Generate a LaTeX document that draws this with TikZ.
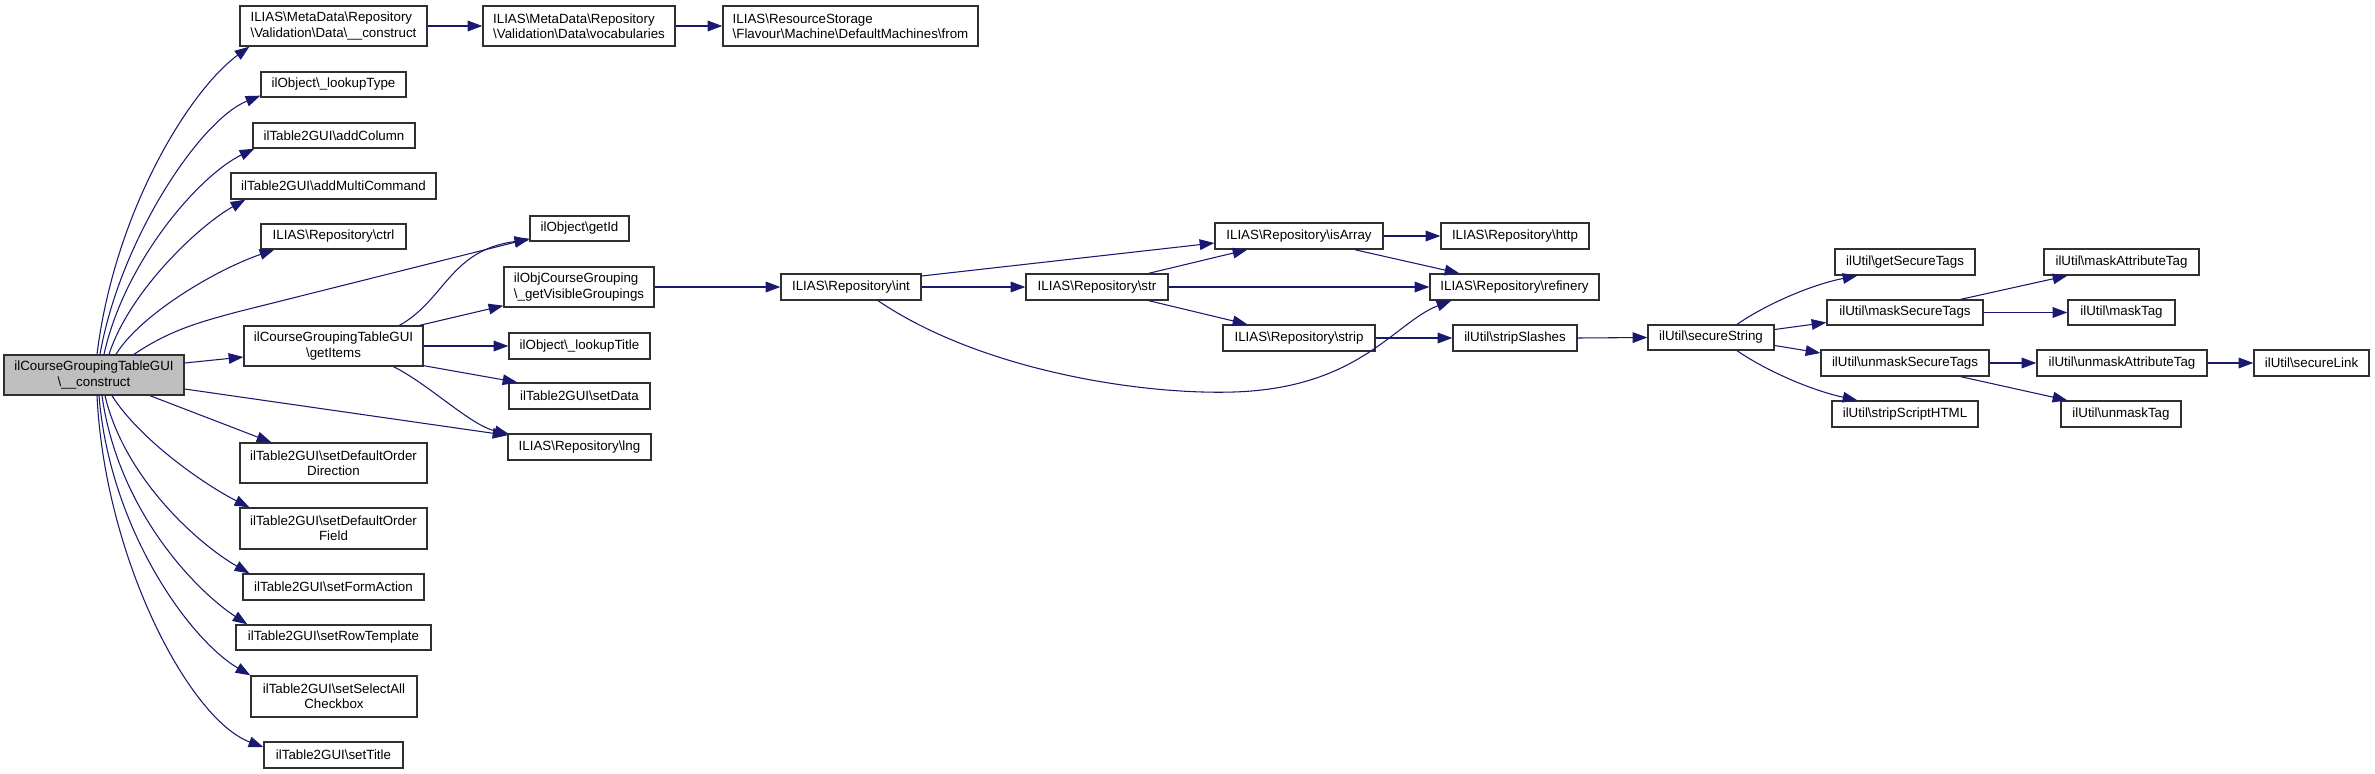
\documentclass[tikz,border=0pt]{standalone}
\usepackage{fontspec}
\setmainfont{Liberation Sans}
\usetikzlibrary{arrows.meta,calc}
\definecolor{edgec}{HTML}{191970}
\definecolor{mainfill}{HTML}{BFBFBF}
\definecolor{bordc}{HTML}{303030}
\newcommand\bsl{\textbackslash}
\newcommand\gn[7][align=center]{\node[box,#1,minimum width={(#5-#3)*0.75pt},minimum height={(#6-#4)*0.75pt}] (#2) at ({(#3+#5)/2},{(#4+#6)/2}) {#7};}
\begin{document}
\begin{tikzpicture}[x=0.75pt,y=-0.75pt,
  box/.style={draw=bordc,line width=1pt,fill=white,inner sep=1pt,font=\fontsize{10}{11.5}\selectfont},
  conn/.style={draw=edgec,line width=0.8pt,-{Triangle[length=11pt,width=8pt]}}]
\fill[white] (0,0) rectangle (2375,774);
\useasboundingbox (0,0) rectangle (2375,774);

\gn[align=center,fill=mainfill]{main}{4}{355}{184}{395}{ilCourseGroupingTableGUI\\\bsl\_\_construct}
\gn[align=left]{mdc}{240}{6}{427}{46}{ILIAS\bsl MetaData\bsl Repository\\\bsl Validation\bsl Data\bsl\_\_construct}
\gn[align=left]{voc}{483}{6}{675}{46}{ILIAS\bsl MetaData\bsl Repository\\\bsl Validation\bsl Data\bsl vocabularies}
\gn[align=left]{nfrom}{723}{6}{978}{46}{ILIAS\bsl ResourceStorage\\\bsl Flavour\bsl Machine\bsl DefaultMachines\bsl from}
\gn{lt}{261}{72}{406}{97}{ilObject\bsl\_lookupType}
\gn{ac}{253}{123}{415}{148}{ilTable2GUI\bsl addColumn}
\gn{amc}{231}{173}{436}{199}{ilTable2GUI\bsl addMultiCommand}
\gn{ctrl}{261}{224}{406}{249}{ILIAS\bsl Repository\bsl ctrl}
\gn{gi}{530}{216}{629}{241}{ilObject\bsl getId}
\gn[align=left]{gvg}{504}{267}{654}{307}{ilObjCourseGrouping\\\bsl\_getVisibleGroupings}
\gn{gitems}{244}{326}{423}{366}{ilCourseGroupingTableGUI\\\bsl getItems}
\gn{ltitle}{509}{333}{650}{359}{ilObject\bsl\_lookupTitle}
\gn{sd}{509}{383}{650}{409}{ilTable2GUI\bsl setData}
\gn{lng}{508}{434}{651}{460}{ILIAS\bsl Repository\bsl lng}
\gn{sdod}{240}{443}{427}{483}{ilTable2GUI\bsl setDefaultOrder\\Direction}
\gn{sdof}{240}{508}{427}{549}{ilTable2GUI\bsl setDefaultOrder\\Field}
\gn{sfa}{243}{574}{424}{600}{ilTable2GUI\bsl setFormAction}
\gn{srt}{236}{625}{431}{650}{ilTable2GUI\bsl setRowTemplate}
\gn{ssac}{251}{676}{417}{717}{ilTable2GUI\bsl setSelectAll\\Checkbox}
\gn{st}{264}{742}{403}{768}{ilTable2GUI\bsl setTitle}
\gn{rint}{781}{274}{921}{300}{ILIAS\bsl Repository\bsl int}
\gn{rstr}{1026}{274}{1168}{300}{ILIAS\bsl Repository\bsl str}
\gn{isarr}{1215}{223}{1383}{249}{ILIAS\bsl Repository\bsl isArray}
\gn{http}{1441}{223}{1589}{249}{ILIAS\bsl Repository\bsl http}
\gn{ref}{1430}{274}{1599}{300}{ILIAS\bsl Repository\bsl refinery}
\gn{strip}{1223}{325}{1375}{351}{ILIAS\bsl Repository\bsl strip}
\gn{ss}{1453}{325}{1577}{351}{ilUtil\bsl stripSlashes}
\gn{sec}{1648}{325}{1774}{350}{ilUtil\bsl secureString}
\gn{gst}{1835}{249}{1975}{275}{ilUtil\bsl getSecureTags}
\gn{mst}{1827}{300}{1983}{325}{ilUtil\bsl maskSecureTags}
\gn{ust}{1821}{350}{1989}{376}{ilUtil\bsl unmaskSecureTags}
\gn{ssh}{1832}{401}{1978}{427}{ilUtil\bsl stripScriptHTML}
\gn{mat}{2044}{249}{2199}{275}{ilUtil\bsl maskAttributeTag}
\gn{mtag}{2068}{300}{2175}{325}{ilUtil\bsl maskTag}
\gn{uat}{2037}{350}{2207}{376}{ilUtil\bsl unmaskAttributeTag}
\gn{utag}{2061}{401}{2181}{427}{ilUtil\bsl unmaskTag}
\gn{sl}{2254}{350}{2369}{376}{ilUtil\bsl secureLink}

% main, upwards
\draw[conn] ($(main.north)+(3,0)$) .. controls (115,210) and (190,90) .. ($(mdc.south west)+(10,0)$);
\draw[conn] ($(main.north)+(6,0)$) .. controls (120,240) and (200,120) .. ($(lt.south west)+(0,-2)$);
\draw[conn] ($(main.north)+(10,0)$) .. controls (125,260) and (200,175) .. ($(ac.south west)+(2,0)$);
\draw[conn] ($(main.north)+(15,0)$) .. controls (130,290) and (200,225) .. ($(amc.south west)+(15,0)$);
\draw[conn] ($(main.north)+(22,0)$) .. controls (140,315) and (215,270) .. ($(ctrl.south west)+(14,0)$);
\draw[conn] ($(main.north)+(40,0)$) .. controls (170,330) and (200,322) .. (237,312) -- ($(gi.south west)+(0,-3)$);
% main, sideways
\draw[conn] ($(main.east)+(0,-12)$) -- ($(gitems.west)+(0,11)$);
\draw[conn] ($(main.east)+(0,14)$) -- ($(lng.north west)+(0,2)$);
% main, downwards
\draw[conn] ($(main.south)+(56,0)$) -- ($(sdod.north west)+(32,0)$);
\draw[conn] ($(main.south)+(18,0)$) .. controls (140,440) and (205,485) .. ($(sdof.north west)+(10,0)$);
\draw[conn] ($(main.south)+(11,0)$) .. controls (125,480) and (200,545) .. ($(sfa.north west)+(7,0)$);
\draw[conn] ($(main.south)+(8,0)$) .. controls (118,510) and (195,590) .. ($(srt.north west)+(12,0)$);
\draw[conn] ($(main.south)+(5,0)$) .. controls (110,530) and (190,640) .. (ssac.north west);
\draw[conn] ($(main.south)+(3,0)$) .. controls (105,560) and (190,720) .. ($(st.west)+(0,-8)$);
% getItems
\draw[conn] ($(gitems.north)+(66,0)$) .. controls (445,300) and (450,250) .. ($(gi.south west)+(0,-2)$);
\draw[conn] ($(gitems.north east)+(-4,0)$) -- ($(gvg.south west)+(0,-2)$);
\draw[conn] (gitems.east) -- (ltitle.west);
\draw[conn] ($(gitems.south east)+(0,-1)$) -- ($(sd.north west)+(9,0)$);
\draw[conn] ($(gitems.south)+(60,0)$) .. controls (430,385) and (470,425) .. ($(lng.north west)+(2,1)$);
% top chain
\draw[conn] (mdc.east) -- (voc.west);
\draw[conn] (voc.east) -- (nfrom.west);
% repository
\draw[conn] (gvg.east) -- (rint.west);
\draw[conn] ($(rint.east)+(0,-11)$) -- ($(isarr.west)+(0,7)$);
\draw[conn] (rint.east) -- (rstr.west);
\draw[conn] ($(rint.south)+(27,0)$) .. controls (980,370) and (1140,395) .. (1234,392)
   .. controls (1360,388) and (1395,322) .. ($(ref.south west)+(22,0)$);
\draw[conn] ($(rstr.north east)+(-20,0)$) -- ($(isarr.south west)+(33,0)$);
\draw[conn] (rstr.east) -- (ref.west);
\draw[conn] ($(rstr.south east)+(-20,0)$) -- ($(strip.north west)+(25,0)$);
\draw[conn] ($(isarr.south east)+(-29,0)$) -- ($(ref.north west)+(30,0)$);
\draw[conn] (isarr.east) -- (http.west);
\draw[conn] (strip.east) -- (ss.west);
\draw[conn] (ss.east) -- (sec.west);
% ilUtil
\draw[conn] ($(sec.north)+(26,0)$) .. controls (1765,305) and (1810,285) .. ($(gst.south west)+(23,0)$);
\draw[conn] ($(sec.east)+(0,-8)$) -- ($(mst.west)+(0,10)$);
\draw[conn] ($(sec.east)+(0,8)$) -- ($(ust.west)+(0,-10)$);
\draw[conn] ($(sec.south)+(26,0)$) .. controls (1765,370) and (1810,390) .. ($(ssh.north west)+(26,0)$);
\draw[conn] ($(mst.north east)+(-23,0)$) -- ($(mat.south west)+(24,0)$);
\draw[conn] (mst.east) -- (mtag.west);
\draw[conn] (ust.east) -- (uat.west);
\draw[conn] ($(ust.south east)+(-29,0)$) -- ($(utag.north west)+(7,0)$);
\draw[conn] (uat.east) -- (sl.west);
\end{tikzpicture}
\end{document}
